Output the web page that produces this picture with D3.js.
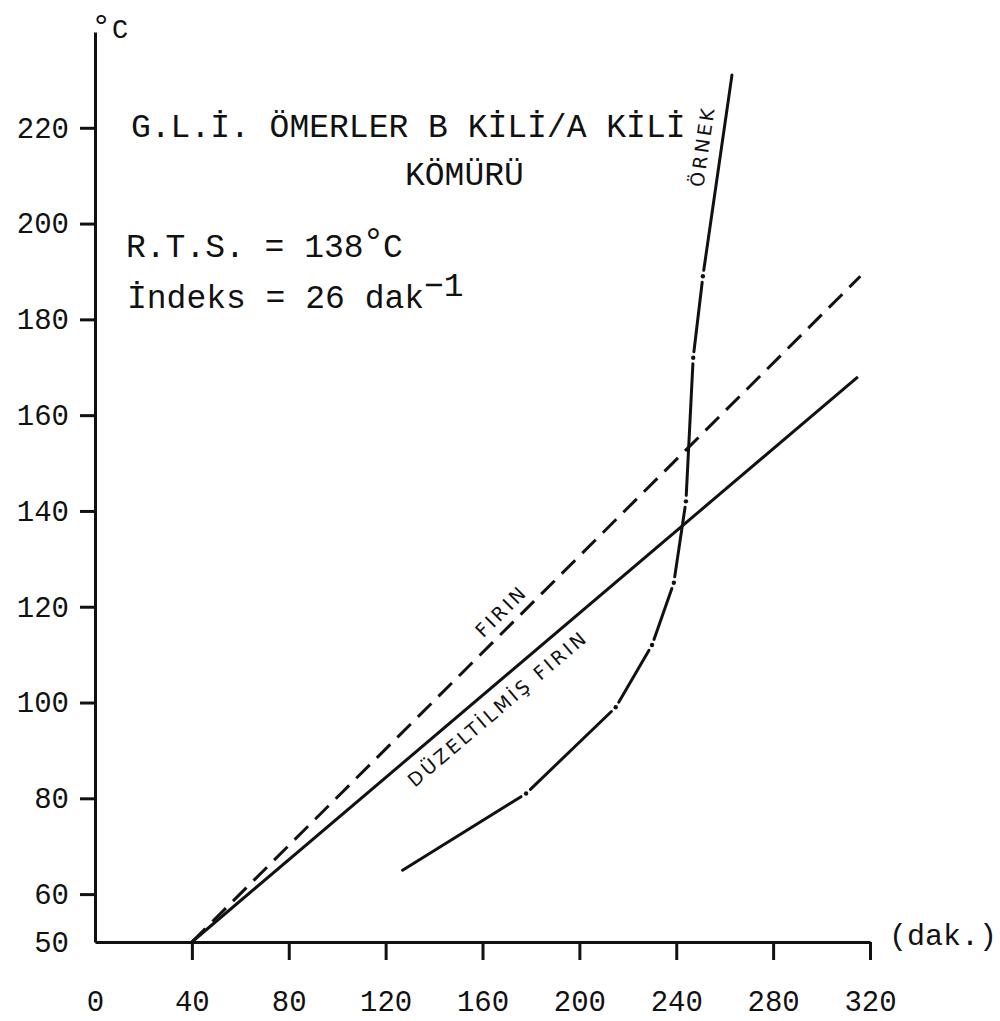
<!DOCTYPE html>
<html>
<head>
<meta charset="utf-8">
<script src="https://cdn.jsdelivr.net/npm/d3@7"></script>
<style>
    body { margin: 0; background: #fff; }
    #chart { width: 1000px; height: 1021px; }
    .mono { font-family: "Liberation Mono", "DejaVu Sans Mono", monospace; fill: #111; }
    .hand { font-family: "DejaVu Sans", sans-serif; font-size: 19px; letter-spacing: 3px; fill: #111; }
    .axis path, .axis line { stroke: #111; stroke-width: 3px; }
    .axis text { font-family: "Liberation Mono", monospace; font-size: 29px; fill: #111; }
</style>
</head>
<body>
<div id="chart"></div>
<script>
// tick labels
const xTicks = [0, 40, 80, 120, 160, 200, 240, 280, 320];
const yTicks = [50, 60, 80, 100, 120, 140, 160, 180, 200, 220];

// FIRIN (dashed) - time in dak., temperature in oC
const firinTime = [40, 316];
const firinTemp = [50, 189];

// DÜZELTİLMİŞ FIRIN (solid)
const duzTime = [40, 315];
const duzTemp = [50, 168];

// ÖRNEK (dash-dot, dots at the readings)
const ornekTime = [127, 178, 215, 230, 239, 244, 247, 251, 263];
const ornekTemp = [65, 81, 99, 112, 125, 142, 172, 189, 231];

class HeatingVis {

    constructor(parentElement){
        this.parentElement = parentElement;
        this.initVis();
    }

    initVis(){
        let vis = this;

        vis.margin = {top: 32, right: 130, bottom: 79, left: 95};
        vis.width = 1000 - vis.margin.left - vis.margin.right;
        vis.height = 1021 - vis.margin.top - vis.margin.bottom;

        vis.root = d3.select("#" + vis.parentElement).append("svg")
            .attr("width", 1000)
            .attr("height", 1021);

        vis.svg = vis.root.append('g')
            .attr('transform', `translate (${vis.margin.left}, ${vis.margin.top})`);

        vis.x = d3.scaleLinear()
            .domain([0, 320])
            .range([0, vis.width]);

        vis.y = d3.scaleLinear()
            .domain([50, 240])
            .range([vis.height, 0]);

        vis.xAxis = d3.axisBottom(vis.x)
            .tickValues(xTicks)
            .tickSize(18)
            .tickSizeOuter(0)
            .tickPadding(30);

        vis.yAxis = d3.axisLeft(vis.y)
            .tickValues(yTicks)
            .tickSize(15)
            .tickSizeOuter(0)
            .tickPadding(11);

        vis.xAxisGroup = vis.svg.append('g')
            .attr('class', 'axis x-axis')
            .attr('transform', `translate (0,${vis.height})`)
            .call(vis.xAxis);

        vis.yAxisGroup = vis.svg.append('g')
            .attr('class', 'axis y-axis')
            .call(vis.yAxis);

        // no tick marks at the origin
        vis.xAxisGroup.selectAll('.tick').filter(d => d === 0).select('line').remove();
        vis.yAxisGroup.selectAll('.tick').filter(d => d === 50).select('line').remove();

        vis.drawTexts();
        vis.updateVis();
    }

    drawTexts(){
        let vis = this;
        let r = vis.root;

        // unit labels
        let unit = r.append('text').attr('class', 'mono');
        unit.append('tspan').attr('x', 91).attr('y', 37).style('font-size', '34px').text('°');
        unit.append('tspan').attr('x', 112).attr('y', 38).style('font-size', '27px').text('C');

        r.append('text').attr('class', 'mono')
            .attr('x', 889).attr('y', 945)
            .style('font-size', '30px')
            .text('(dak.)');

        // header block
        r.append('text').attr('class', 'mono')
            .attr('x', 131).attr('y', 137)
            .style('font-size', '33px')
            .text('G.L.İ. ÖMERLER B KİLİ/A KİLİ');

        r.append('text').attr('class', 'mono')
            .attr('x', 405).attr('y', 185)
            .style('font-size', '33px')
            .text('KÖMÜRÜ');

        let rts = r.append('text').attr('class', 'mono')
            .attr('x', 126).attr('y', 257)
            .style('font-size', '33px');
        rts.append('tspan').text('R.T.S. = 138');
        rts.append('tspan').attr('x', 362).attr('dy', -3).style('font-size', '38px').text('°');
        rts.append('tspan').attr('x', 383).attr('dy', 3).text('C');

        let ind = r.append('text').attr('class', 'mono')
            .attr('x', 127).attr('y', 308)
            .style('font-size', '33px');
        ind.append('tspan').text('İndeks = 26 dak');
        ind.append('tspan').attr('dy', -12).text('−1');
    }

    labelAlong(t0, T0, t1, T1, frac, offset, label){
        let vis = this;
        let x0 = vis.x(t0), y0 = vis.y(T0), x1 = vis.x(t1), y1 = vis.y(T1);
        let a = Math.atan2(y1 - y0, x1 - x0);
        let px = x0 + (x1 - x0) * frac + Math.sin(a) * offset;
        let py = y0 + (y1 - y0) * frac - Math.cos(a) * offset;

        vis.svg.append('text')
            .attr('class', 'hand')
            .attr('text-anchor', 'middle')
            .attr('dy', '0.35em')
            .attr('transform', `translate(${px},${py}) rotate(${a * 180 / Math.PI})`)
            .text(label);
    }

    updateVis(){
        let vis = this;

        let line = d3.line()
            .x(d => vis.x(d[0]))
            .y(d => vis.y(d[1]));

        // FIRIN
        vis.svg.append('path')
            .datum(d3.zip(firinTime, firinTemp))
            .attr('d', line)
            .attr('fill', 'none')
            .attr('stroke', '#111')
            .attr('stroke-width', 3)
            .attr('stroke-dasharray', '19,10');

        // DÜZELTİLMİŞ FIRIN
        vis.svg.append('path')
            .datum(d3.zip(duzTime, duzTemp))
            .attr('d', line)
            .attr('fill', 'none')
            .attr('stroke', '#111')
            .attr('stroke-width', 3);

        // ÖRNEK: segments broken at each reading with a dot
        let pts = d3.zip(ornekTime, ornekTemp).map(d => [vis.x(d[0]), vis.y(d[1])]);
        let gap = 6;
        let segs = d3.pairs(pts).map((p, i) => {
            let dx = p[1][0] - p[0][0], dy = p[1][1] - p[0][1];
            let len = Math.hypot(dx, dy);
            let g0 = i === 0 ? 0 : gap;
            let g1 = i === pts.length - 2 ? 0 : gap;
            return [p[0][0] + dx * g0 / len, p[0][1] + dy * g0 / len,
                    p[1][0] - dx * g1 / len, p[1][1] - dy * g1 / len];
        });

        vis.svg.selectAll('.ornek-seg')
            .data(segs)
            .enter()
            .append('line')
            .attr('class', 'ornek-seg')
            .attr('x1', d => d[0]).attr('y1', d => d[1])
            .attr('x2', d => d[2]).attr('y2', d => d[3])
            .attr('stroke', '#111')
            .attr('stroke-width', 3)
            .attr('stroke-linecap', 'round');

        vis.svg.selectAll('.ornek-dot')
            .data(pts.slice(1, -1))
            .enter()
            .append('circle')
            .attr('class', 'ornek-dot')
            .attr('cx', d => d[0])
            .attr('cy', d => d[1])
            .attr('r', 2.2)
            .attr('fill', '#111');

        // hand-lettered labels
        vis.labelAlong(firinTime[0], firinTemp[0], firinTime[1], firinTemp[1], 0.48, 16, 'FIRIN');
        vis.labelAlong(duzTime[0], duzTemp[0], duzTime[1], duzTemp[1], 0.44, -20, 'DÜZELTİLMİŞ FIRIN');
        let n = ornekTime.length;
        vis.labelAlong(ornekTime[n - 2], ornekTemp[n - 2], ornekTime[n - 1], ornekTemp[n - 1], 0.633, 19, 'ÖRNEK');
    }
}

new HeatingVis('chart');
</script>
</body>
</html>
